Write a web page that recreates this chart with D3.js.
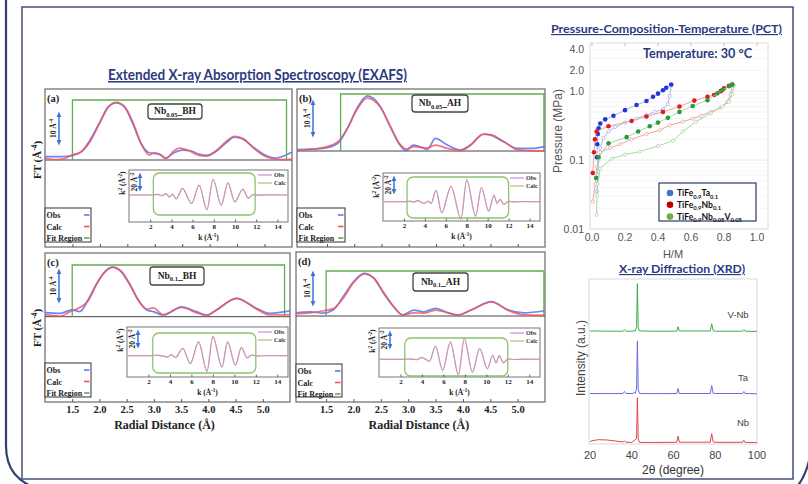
<!DOCTYPE html>
<html>
<head>
<meta charset="utf-8">
<script src="https://cdn.jsdelivr.net/npm/d3@7"></script>
<style>
  body { margin: 0; background: #fff; }
  svg { display: block; }
</style>
</head>
<body>
<svg id="fig" width="808" height="484"></svg>
<script>
// ---- EXAFS: |FT| vs radial distance, [R (Å), FT (Å^-4)] ----
const ftObsA  = [[1.0,1.0],[1.3,1.0],[1.5,1.4],[1.65,2.3],[1.8,5.5],[2.0,11.5],[2.15,16],[2.3,17.3],[2.45,16],[2.6,11],[2.75,5],[2.9,2.2],[3.0,2.0],[3.1,1.6],[3.2,0.6],[3.35,2.2],[3.5,3.0],[3.65,2.8],[3.8,1.8],[3.95,1.4],[4.1,2.4],[4.3,5.2],[4.45,6.9],[4.6,6.4],[4.8,3.8],[5.0,1.6],[5.2,0.6],[5.35,1.2],[5.5,2.4]];
const ftCalcA = [[1.0,0.6],[1.2,0.1],[1.35,0.4],[1.5,1.6],[1.65,2.4],[1.8,5],[2.0,11.3],[2.15,16],[2.3,17.5],[2.45,16.2],[2.6,11.5],[2.75,5],[2.9,1.5],[3.0,2.2],[3.1,1.7],[3.2,0.4],[3.35,2.8],[3.45,3.6],[3.6,3.0],[3.8,1.4],[3.95,1.2],[4.1,2.6],[4.3,5.6],[4.45,7.2],[4.6,6.6],[4.8,3.6],[5.0,1.2],[5.2,0.3],[5.35,0.1],[5.5,0.3]];
const ftObsB  = [[0.95,0.4],[1.2,0.5],[1.43,0.7],[1.7,2.1],[1.89,6.6],[2.05,11.5],[2.24,14.9],[2.48,12],[2.66,6.6],[2.84,1.6],[2.95,0.1],[3.08,1.6],[3.2,1.2],[3.34,0.5],[3.49,3.4],[3.71,1.6],[3.95,0.3],[4.13,1.6],[4.37,4.6],[4.5,4.3],[4.74,2.5],[5.0,0.7],[5.23,0.7],[5.5,1.2]];
const ftCalcB = [[0.95,0.1],[1.2,0.4],[1.43,0.9],[1.7,2.5],[1.89,6.5],[2.05,11.2],[2.24,14.3],[2.48,11.8],[2.66,6.8],[2.84,1.8],[2.97,0.5],[3.1,1.2],[3.34,0.8],[3.49,1.6],[3.71,0.7],[3.95,0.1],[4.13,1.5],[4.37,4.5],[4.5,4.4],[4.74,2.6],[5.0,0.3],[5.23,0.1],[5.5,0]];
const ftObsC  = [[1.0,1.2],[1.28,1.0],[1.49,2.0],[1.64,1.5],[1.79,4.9],[1.95,9.8],[2.1,13.2],[2.24,14.5],[2.4,13.2],[2.56,9.3],[2.71,4.9],[2.87,2.0],[2.99,1.5],[3.17,0.5],[3.51,2.9],[3.78,1.5],[3.97,0.5],[4.15,2.0],[4.52,5.4],[4.88,2.5],[5.13,1.0],[5.5,1.7]];
const ftCalcC = [[1.0,0.6],[1.28,0.2],[1.49,1.7],[1.64,2.7],[1.79,4.6],[1.95,9.6],[2.1,13.2],[2.24,14.6],[2.4,13.4],[2.56,9.6],[2.71,5.0],[2.87,2.2],[2.99,2.6],[3.17,0.6],[3.51,2.7],[3.78,1.2],[3.97,0.3],[4.15,2.0],[4.52,5.4],[4.88,2.3],[5.13,0.5],[5.5,0.6]];
const ftObsD  = [[0.95,0.9],[1.21,1.2],[1.45,0.8],[1.63,1.7],[1.81,5.5],[2.0,9.8],[2.2,12.2],[2.37,10.8],[2.55,6.5],[2.73,2.7],[2.9,0.3],[3.1,1.7],[3.28,1.2],[3.5,2.2],[3.73,0.9],[3.91,0.3],[4.15,1.7],[4.52,4.1],[4.83,1.7],[5.12,0.9],[5.49,1.5]];
const ftCalcD = [[0.95,0.7],[1.21,0.9],[1.45,1.5],[1.63,2.1],[1.81,5.0],[2.0,9.5],[2.2,12.0],[2.37,10.9],[2.55,6.8],[2.73,2.8],[2.9,0.3],[3.1,0.9],[3.28,0.8],[3.5,1.7],[3.73,0.9],[3.91,0.3],[4.15,1.7],[4.52,4.0],[4.83,1.6],[5.12,0.3],[5.49,0.2]];

// ---- k-space inset, [k (Å^-1), k²χ (Å^-2)] ----
const kObsA  = [[0,0],[2.2,0],[2.7,0.8],[3.1,-0.8],[3.5,1.5],[3.8,-2.5],[4.1,0.8],[4.45,-4.5],[5.05,7.4],[5.9,-9.2],[6.62,11.1],[7.35,-16.7],[7.93,17.8],[8.7,-11.1],[9.34,13.7],[9.98,-7.4],[10.74,6.3],[11.25,-3.7],[11.7,0.6],[12.3,-0.4],[13,0.3],[15,0]];
const kCalcA = [[0,0],[2.2,0],[2.7,0.6],[3.1,-0.6],[3.5,1.3],[3.8,-2.2],[4.1,0.6],[4.45,-4.2],[5.05,7.0],[5.9,-9.6],[6.62,10.6],[7.35,-16],[7.93,17.2],[8.7,-11.5],[9.34,13.2],[9.98,-7.8],[10.74,6.6],[11.25,-3.4],[11.7,0.3],[12.3,-0.2],[13,0.1],[15,0]];
const kObsB  = [[0,0],[2.0,0],[2.6,0.6],[3.0,-0.6],[3.3,1.6],[3.9,-2.2],[4.3,0.8],[4.6,-2],[5.07,13],[5.6,-12.6],[6.5,17.4],[7.45,-19.7],[8.0,24.9],[8.85,-16.7],[9.4,16],[10.1,-11.1],[10.6,7.4],[10.9,-2],[11.2,3],[11.55,-3.3],[12.0,0.5],[12.6,-0.4],[13.5,0.3],[15,0]];
const kCalcB = [[0,0],[2.0,0],[2.6,0.4],[3.0,-0.4],[3.3,1.2],[3.9,-1.8],[4.3,0.5],[4.6,-1.6],[5.07,12.4],[5.6,-12],[6.5,16.6],[7.45,-18.8],[8.0,23.4],[8.85,-15.6],[9.4,15.2],[10.1,-10],[10.6,6.6],[10.9,-1.5],[11.2,2.4],[11.55,-2.8],[12.0,0.3],[12.6,-0.2],[13.5,0.1],[15,0]];
const kObsC  = [[0,0],[2.2,0],[2.8,0.6],[3.3,-0.3],[3.8,-1.6],[4.15,1.1],[4.5,-2.2],[5.2,8.2],[5.9,-8.5],[6.67,15.6],[7.45,-17.8],[8.0,21.9],[8.85,-12.2],[9.37,15.6],[10.1,-10.4],[10.65,9.3],[11.2,-2.6],[11.6,0.8],[12.2,-0.4],[13,0.3],[15,0]];
const kCalcC = [[0,0],[2.2,0],[2.8,0.4],[3.3,-0.2],[3.8,-1.3],[4.15,0.9],[4.5,-2.0],[5.2,7.8],[5.9,-8.9],[6.67,15.0],[7.45,-17.0],[8.0,21.0],[8.85,-12.8],[9.37,15.0],[10.1,-10.8],[10.65,8.8],[11.2,-2.2],[11.6,0.5],[12.2,-0.2],[13,0.1],[15,0]];
const kObsD  = [[0,0],[2.2,0],[3.0,0.5],[3.5,-0.5],[4.0,2.2],[4.7,-2.2],[5.26,14.8],[5.93,-11.9],[6.65,19.6],[7.4,-17.4],[7.95,23.3],[8.7,-13.8],[9.38,12.2],[10.1,-10],[10.6,4.8],[10.9,-4.4],[11.2,4.4],[11.6,-4.4],[12.0,0.5],[12.6,-0.3],[13.5,0.2],[15,0]];
const kCalcD = [[0,0],[2.2,0],[3.0,0.3],[3.5,-0.3],[4.0,1.8],[4.7,-2.0],[5.26,14.2],[5.93,-12.4],[6.65,18.8],[7.4,-16.8],[7.95,22.4],[8.7,-14.4],[9.38,11.6],[10.1,-10.6],[10.6,4.2],[10.9,-3.8],[11.2,3.8],[11.6,-3.8],[12.0,0.3],[12.6,-0.2],[13.5,0.1],[15,0]];

// fit windows
const fitR = [[1.5,5.4],[1.75,5.48],[1.5,5.4],[1.5,5.48]];
const fitK = [[2.3,11.9],[2.3,12.0],[2.4,12.0],[2.4,12.0]];
const panelTags = ["(a)","(b)","(c)","(d)"];
const sampleNames = [["Nb","0.05","_BH"],["Nb","0.05","_AH"],["Nb","0.1","_BH"],["Nb","0.1","_AH"]];
const rTicks = [1.5,2.0,2.5,3.0,3.5,4.0,4.5,5.0];
const kTicks = [2,4,6,8,10,12,14];

// ---- PCT, [H/M, P (MPa)] ----
const taAbs = [[0.03,0.11],[0.032,0.17],[0.035,0.24],[0.04,0.29],[0.05,0.34],[0.08,0.39],[0.13,0.44],[0.2,0.53],[0.27,0.63],[0.33,0.72],[0.37,0.83],[0.4,0.92],[0.43,1.03],[0.45,1.12],[0.48,1.25]];
const taDes = [[0.48,1.2],[0.47,0.85],[0.46,0.65],[0.43,0.55],[0.38,0.5],[0.33,0.45],[0.27,0.4],[0.2,0.35],[0.14,0.3],[0.1,0.26],[0.07,0.21],[0.05,0.15],[0.04,0.1],[0.035,0.06],[0.03,0.035]];
const nbAbs = [[0.005,0.065],[0.012,0.13],[0.018,0.2],[0.028,0.26],[0.1,0.31],[0.24,0.37],[0.33,0.43],[0.43,0.5],[0.53,0.6],[0.62,0.73],[0.7,0.83],[0.74,0.88],[0.78,1.0],[0.8,1.1],[0.83,1.2],[0.85,1.25]];
const nbDes = [[0.85,1.22],[0.84,0.9],[0.82,0.7],[0.78,0.58],[0.72,0.5],[0.66,0.44],[0.61,0.4],[0.55,0.36],[0.47,0.32],[0.41,0.27],[0.33,0.24],[0.24,0.2],[0.17,0.17],[0.11,0.15],[0.05,0.13],[0.03,0.08],[0.02,0.045],[0.005,0.025]];
const vnAbs = [[0.025,0.055],[0.04,0.11],[0.1,0.175],[0.21,0.215],[0.28,0.26],[0.35,0.31],[0.4,0.35],[0.46,0.41],[0.53,0.5],[0.61,0.61],[0.7,0.74],[0.76,0.93],[0.79,1.04],[0.83,1.18],[0.85,1.25]];
const vnDes = [[0.86,1.2],[0.85,0.9],[0.83,0.7],[0.79,0.6],[0.72,0.48],[0.63,0.36],[0.55,0.26],[0.49,0.19],[0.4,0.16],[0.29,0.133],[0.2,0.12],[0.12,0.105],[0.05,0.076],[0.035,0.045],[0.03,0.03],[0.028,0.016]];
const pctXTicks = [0,0.2,0.4,0.6,0.8,1.0];
const pctYTicks = [0.01,0.1,1,2,4];
const pctYLabels = ["0.01","0.1","1.0","2.0","4.0"];
const pctNames = [
  [["TiFe","n"],["0.9","sub"],["Ta","n"],["0.1","sub"]],
  [["TiFe","n"],["0.9","sub"],["Nb","n"],["0.1","sub"]],
  [["TiFe","n"],["0.9","sub"],["Nb","n"],["0.05","sub"],["V","n"],["0.05","sub"]]
];

// ---- XRD, [2θ (deg), intensity (a.u.)] ----
const xrdVNb = [[20,1.5],[26,1.2],[32,1],[35.8,1],[36.5,4],[37.2,1],[40.6,1],[41.1,2.5],[41.6,1],[42.3,8],[42.7,96],[43.1,9],[43.7,1.5],[50,1],[61.6,1],[62.2,10],[62.8,1.5],[77.6,1.5],[78.3,16],[79.0,2],[80,1],[93.1,1],[93.7,4],[94.3,1],[100,0.5]];
const xrdTa  = [[20,1],[30,0.8],[35.8,1],[36.5,5],[37.2,1],[40.6,1],[41.1,3.5],[41.6,1],[42.3,9],[42.7,106],[43.1,9],[43.7,1],[50,0.8],[61.6,1],[62.2,11],[62.8,1],[77.6,1],[78.3,17],[79.0,1.5],[80,1],[93.1,1],[93.7,5],[94.3,1],[100,0.5]];
const xrdNb  = [[20,2],[21,4],[24,6],[28,5.5],[32,3.5],[35.8,1.5],[36.5,3],[37.2,1],[40,0.5],[42.3,8],[42.7,90],[43.1,8],[43.7,0.5],[50,0.5],[61.6,0.8],[62.2,13],[62.8,1],[77.6,1],[78.3,18],[79.0,1.5],[80,0.8],[93.1,0.8],[93.7,5],[94.3,0.5],[100,0.5]];
const xrdNames = ["V-Nb","Ta","Nb"];
const xrdTicks = [20,40,60,80,100];

const NAVY = "#2b3a80";
const SERIF = "'Liberation Serif','DejaVu Serif',serif";
const SANS = "'Liberation Sans',Arial,sans-serif";
const HEAD = "Lato,'Open Sans',sans-serif";

const svg = d3.select("#fig");
svg.append("rect").attr("width", 808).attr("height", 484).attr("fill", "#fff");

// write text with sub/superscripts
function rich(t, parts, size) {
  let cur = 0;
  parts.forEach(([s, k]) => {
    const off = k === "sub" ? size * 0.3 : k === "sup" ? -size * 0.4 : 0;
    t.append("tspan").attr("dy", off - cur).attr("font-size", k === "n" ? size : size * 0.68).text(s);
    cur = off;
  });
  return t;
}

// outer frame
svg.append("path").attr("d", "M6,-2 V446 C6,470 18,482 40,490")
  .attr("fill", "none").attr("stroke", "#34406e").attr("stroke-width", 2.2);
svg.append("path").attr("d", "M794,490 C802,482 807,472 810,456")
  .attr("fill", "none").attr("stroke", "#34406e").attr("stroke-width", 2.2);
svg.append("rect").attr("x", 22).attr("y", 7).attr("width", 771).attr("height", 472)
  .attr("fill", "none").attr("stroke", "#3a4470").attr("stroke-width", 1.4);

// ================= EXAFS =================
svg.append("text").attr("x", 108).attr("y", 80).attr("textLength", 299)
  .attr("lengthAdjust", "spacingAndGlyphs")
  .attr("font-family", HEAD).attr("font-weight", "bold").attr("font-size", 15.5)
  .attr("fill", NAVY).attr("text-decoration", "underline")
  .text("Extended X-ray Absorption Spectroscopy (EXAFS)");

const layout = [
  {x0:45, x1:292, y0:89, y1:247, dom:[1.0,5.5], base:160, ppu:3.3, fitTop:100, arrowX:59, arrowY:112,
   nameBox:[148,104,54,15], leg:[45,208,46,34], labels:false,
   ins:{x0:129, x1:288, y0:170, y1:222, base:195}, kFitY:[173,215]},
  {x0:297, x1:545, y0:89, y1:247, dom:[0.95,5.5], base:151, ppu:3.7, fitTop:94, arrowX:313, arrowY:100,
   nameBox:[412,95,56,17], leg:[297,208,48,34], labels:false,
   ins:{x0:383, x1:540, y0:173, y1:221, base:201.7}, kFitY:[177,218]},
  {x0:45, x1:290, y0:253, y1:402, dom:[1.0,5.5], base:316.7, ppu:3.4, fitTop:265, arrowX:59, arrowY:269,
   nameBox:[150,267,54,18], leg:[45,363,46,34], labels:true,
   ins:{x0:127, x1:288, y0:327, y1:377, base:355.7}, kFitY:[333,373]},
  {x0:296, x1:545, y0:252, y1:402, dom:[0.95,5.5], base:316, ppu:3.5, fitTop:271, arrowX:313, arrowY:271,
   nameBox:[413,273,55,18], leg:[296,364,46,33], labels:true,
   ins:{x0:379, x1:540, y0:328, y1:377, base:359.3}, kFitY:[338,376]}
];
const ftData = [[ftObsA,ftCalcA],[ftObsB,ftCalcB],[ftObsC,ftCalcC],[ftObsD,ftCalcD]];
const kData = [[kObsA,kCalcA],[kObsB,kCalcB],[kObsC,kCalcC],[kObsD,kCalcD]];

// arrow heads
const defs = svg.append("defs");
defs.append("marker").attr("id", "ah").attr("viewBox", "0 0 10 10").attr("refX", 5).attr("refY", 5)
  .attr("markerWidth", 4).attr("markerHeight", 4).attr("orient", "auto-start-reverse")
  .append("path").attr("d", "M0,1 L9,5 L0,9 z").attr("fill", "#3b74d6");

function vArrow(g, x, yTop, yBot, lab) {
  g.append("line").attr("x1", x).attr("x2", x).attr("y1", yTop + 2).attr("y2", yBot - 2)
    .attr("stroke", "#3b74d6").attr("stroke-width", 1.5)
    .attr("marker-start", "url(#ah)").attr("marker-end", "url(#ah)");
  const t = g.append("text").attr("transform", `translate(${x - 3},${(yTop + yBot) / 2}) rotate(-90)`)
    .attr("text-anchor", "middle").attr("font-family", SERIF).attr("font-weight", "bold").attr("fill", "#222");
  rich(t, lab, 7.5);
}

layout.forEach((p, i) => {
  const g = svg.append("g");
  const [obs, calc] = ftData[i];
  const x = d3.scaleLinear().domain(p.dom).range([p.x0, p.x1]);
  const y = d3.scaleLinear().domain([0, 10]).range([p.base, p.base - 10 * p.ppu]);

  g.append("rect").attr("x", p.x0).attr("y", p.y0).attr("width", p.x1 - p.x0).attr("height", p.y1 - p.y0)
    .attr("fill", "#fff").attr("stroke", "#6a6a6a").attr("stroke-width", 1.2);
  g.append("line").attr("x1", p.x0).attr("x2", p.x1).attr("y1", p.base).attr("y2", p.base)
    .attr("stroke", "#444").attr("stroke-width", 1);
  g.append("path")
    .attr("d", `M${x(fitR[i][0])},${p.base}V${p.fitTop}H${x(fitR[i][1])}V${p.base}`)
    .attr("fill", "none").attr("stroke", "#62ad4f").attr("stroke-width", 1.3);

  const line = d3.line().x(d => x(d[0])).y(d => y(d[1])).curve(d3.curveMonotoneX);
  g.append("path").datum(obs).attr("d", line).attr("fill", "none")
    .attr("stroke", "#5b7cf5").attr("stroke-width", 1.7).attr("opacity", 0.9);
  g.append("path").datum(calc).attr("d", line).attr("fill", "none")
    .attr("stroke", "#f4505e").attr("stroke-width", 1.7).attr("opacity", 0.8);

  const ax = d3.axisBottom(x).tickValues(rTicks).tickSizeInner(-3).tickSizeOuter(0).tickPadding(4)
    .tickFormat(p.labels ? d3.format(".1f") : () => "");
  const ag = g.append("g").attr("transform", `translate(0,${p.y1})`).call(ax);
  ag.select(".domain").remove();
  ag.selectAll("line").attr("stroke", "#555");
  ag.selectAll("text").attr("font-family", SERIF).attr("font-weight", "bold").attr("font-size", 10.5).attr("fill", "#222");
  if (p.labels) {
    g.append("text").attr("x", (x(1.5) + x(5.0)) / 2 - 3).attr("y", 428.5).attr("text-anchor", "middle")
      .attr("font-family", SERIF).attr("font-weight", "bold").attr("font-size", 12).attr("fill", "#222")
      .text("Radial Distance (Å)");
  }

  // tag and sample box
  g.append("text").attr("x", p.x0 + 2).attr("y", p.y0 + 13).attr("font-family", SERIF)
    .attr("font-weight", "bold").attr("font-size", 10.5).attr("fill", "#222").text(panelTags[i]);
  const nb = p.nameBox;
  g.append("rect").attr("x", nb[0]).attr("y", nb[1]).attr("width", nb[2]).attr("height", nb[3]).attr("rx", 3)
    .attr("fill", "#fff").attr("stroke", "#444").attr("stroke-width", 1.3);
  const nt = g.append("text").attr("x", nb[0] + nb[2] / 2).attr("y", nb[1] + nb[3] / 2 + 2.5)
    .attr("text-anchor", "middle").attr("font-family", SERIF).attr("font-weight", "bold").attr("fill", "#222");
  rich(nt, [[sampleNames[i][0], "n"], [sampleNames[i][1], "sub"], [sampleNames[i][2], "n"]], 9.5);

  // scale bar 10 Å^-4
  vArrow(g, p.arrowX, p.arrowY, p.arrowY + (y(0) - y(10)), [["10 Å", "n"], ["-4", "sup"]]);

  // legend
  const L = p.leg;
  g.append("rect").attr("x", L[0]).attr("y", L[1]).attr("width", L[2]).attr("height", L[3])
    .attr("fill", "#fff").attr("stroke", "#444").attr("stroke-width", 1.1);
  [["Obs", "#5b7cf5"], ["Calc", "#f4505e"], ["Fit Region", "#62ad4f"]].forEach((e, j) => {
    const yy = L[1] + 9 + j * 11.5;
    g.append("text").attr("x", L[0] + 1.5).attr("y", yy + 1).attr("font-family", SERIF).attr("font-weight", "bold")
      .attr("font-size", 8).attr("fill", "#222").text(e[0]);
    g.append("line").attr("x1", L[0] + L[2] - 7).attr("x2", L[0] + L[2] - 1.5).attr("y1", yy - 2).attr("y2", yy - 2)
      .attr("stroke", e[1]).attr("stroke-width", 1.6);
  });

  // inset (k-space)
  const I = p.ins;
  const kx = d3.scaleLinear().domain([0, 15]).range([I.x0, I.x1]);
  const ky = d3.scaleLinear().domain([-10, 10]).range([I.base + 9, I.base - 9]);
  g.append("rect").attr("x", I.x0).attr("y", I.y0).attr("width", I.x1 - I.x0).attr("height", I.y1 - I.y0)
    .attr("fill", "#fff").attr("stroke", "#777").attr("stroke-width", 1);
  g.append("rect").attr("x", kx(fitK[i][0])).attr("y", p.kFitY[0])
    .attr("width", kx(fitK[i][1]) - kx(fitK[i][0])).attr("height", p.kFitY[1] - p.kFitY[0]).attr("rx", 6)
    .attr("fill", "none").attr("stroke", "#8cc46e").attr("stroke-width", 1.3);
  const kl = d3.line().x(d => kx(d[0])).y(d => ky(d[1])).curve(d3.curveMonotoneX);
  g.append("path").datum(kData[i][1]).attr("d", kl).attr("fill", "none")
    .attr("stroke", "#c7b47a").attr("stroke-width", 1.2);
  g.append("path").datum(kData[i][0]).attr("d", kl).attr("fill", "none")
    .attr("stroke", "#cf86e6").attr("stroke-width", 1.1).attr("opacity", 0.75);
  const kax = d3.axisBottom(kx).tickValues(kTicks).tickSizeInner(-2.5).tickSizeOuter(0).tickPadding(2.5);
  const kag = g.append("g").attr("transform", `translate(0,${I.y1})`).call(kax);
  kag.select(".domain").remove();
  kag.selectAll("line").attr("stroke", "#666");
  kag.selectAll("text").attr("font-family", SERIF).attr("font-weight", "bold").attr("font-size", 7).attr("fill", "#222");
  const kt = g.append("text").attr("x", kx(7.5)).attr("y", I.y1 + 17.5).attr("text-anchor", "middle")
    .attr("font-family", SERIF).attr("font-weight", "bold").attr("fill", "#222");
  rich(kt, [["k (Å", "n"], ["-1", "sup"], [")", "n"]], 7.5);
  const kyl = g.append("text").attr("transform", `translate(${I.x0 - 4},${I.y0 + 13}) rotate(-90)`)
    .attr("text-anchor", "middle").attr("font-family", SERIF).attr("font-weight", "bold").attr("fill", "#222");
  rich(kyl, [["k", "n"], ["2", "sup"], [" (Å", "n"], ["-2", "sup"], [")", "n"]], 7.5);
  vArrow(g, I.x0 + 11, I.y0 + 3, I.y0 + 3 + (ky(0) - ky(20)), [["20 Å", "n"], ["-2", "sup"]]);
  [["Obs", "#cf86e6"], ["Calc", "#c7b47a"]].forEach((e, j) => {
    const yy = I.y0 + 5 + j * 8;
    g.append("line").attr("x1", I.x1 - 30).attr("x2", I.x1 - 16).attr("y1", yy).attr("y2", yy)
      .attr("stroke", e[1]).attr("stroke-width", 1.2);
    g.append("text").attr("x", I.x1 - 14).attr("y", yy + 2).attr("font-family", SERIF).attr("font-weight", "bold")
      .attr("font-size", 6).attr("fill", "#333").text(e[0]);
  });
});

// FT axis labels
[160, 328].forEach(cy => {
  const t = svg.append("text").attr("transform", `translate(41,${cy}) rotate(-90)`).attr("text-anchor", "middle")
    .attr("font-family", SERIF).attr("font-weight", "bold").attr("fill", "#222");
  rich(t, [["FT (Å", "n"], ["-4", "sup"], [")", "n"]], 11);
});

// ================= PCT =================
svg.append("text").attr("x", 551).attr("y", 33).attr("textLength", 231).attr("lengthAdjust", "spacingAndGlyphs")
  .attr("font-family", HEAD).attr("font-weight", "bold").attr("font-size", 11.5).attr("fill", NAVY)
  .attr("text-decoration", "underline").text("Pressure-Composition-Temperature (PCT)");

const px = d3.scaleLinear().domain([0, 1]).range([592, 757]);
const py = d3.scaleLog().domain([0.01, 5]).range([229, 43]);
const pg = svg.append("g");
pg.append("rect").attr("x", 590).attr("y", 43).attr("width", 178).attr("height", 186)
  .attr("fill", "#fff").attr("stroke", "#cfcfcf").attr("stroke-width", 0.8);
[0.01, 0.1, 1].forEach(dec => d3.range(1, 10).forEach(m => {
  const v = dec * m;
  if (v > 5 || v <= 0.01) return;
  pg.append("line").attr("x1", 590).attr("x2", 768).attr("y1", py(v)).attr("y2", py(v))
    .attr("stroke", m === 1 ? "#e2e2e2" : "#f0f0f0").attr("stroke-width", 0.7);
}));
pctXTicks.forEach(v => {
  pg.append("line").attr("x1", px(v)).attr("x2", px(v)).attr("y1", 43).attr("y2", 46).attr("stroke", "#bbb");
  pg.append("text").attr("x", px(v)).attr("y", 241).attr("text-anchor", "middle").attr("font-family", SANS)
    .attr("font-size", 10.5).attr("fill", "#555").text(d3.format(".1f")(v));
});
pctYTicks.forEach((v, j) => {
  pg.append("text").attr("x", 584).attr("y", py(v) + 3.5).attr("text-anchor", "end").attr("font-family", SANS)
    .attr("font-size", 10.5).attr("fill", "#555").text(pctYLabels[j]);
});
pg.append("text").attr("x", 673).attr("y", 258).attr("text-anchor", "middle").attr("font-family", SANS)
  .attr("font-size", 11).attr("fill", "#555").text("H/M");
pg.append("text").attr("transform", "translate(562,131) rotate(-90)").attr("text-anchor", "middle")
  .attr("font-family", SANS).attr("font-size", 12).attr("fill", "#555").text("Pressure (MPa)");

const pctSets = [
  {abs: taAbs, des: taDes, dark: "#2336d8", light: "#aab4ee", key: "#4472c4"},
  {abs: nbAbs, des: nbDes, dark: "#d91e1e", light: "#efa3a3", key: "#c00000"},
  {abs: vnAbs, des: vnDes, dark: "#2e9a3c", light: "#a9d6a2", key: "#70ad47"}
];
const pl = d3.line().x(d => px(d[0])).y(d => py(d[1]));
pctSets.forEach(s => {
  pg.append("path").datum(s.des).attr("d", pl).attr("fill", "none").attr("stroke", s.light).attr("stroke-width", 1);
  pg.selectAll(null).data(s.des).enter().append("circle").attr("cx", d => px(d[0])).attr("cy", d => py(d[1]))
    .attr("r", 1.6).attr("fill", "#fff").attr("stroke", s.light).attr("stroke-width", 0.8);
});
pctSets.forEach(s => {
  pg.append("path").datum(s.abs).attr("d", pl).attr("fill", "none").attr("stroke", s.light).attr("stroke-width", 1);
  pg.selectAll(null).data(s.abs).enter().append("circle").attr("cx", d => px(d[0])).attr("cy", d => py(d[1]))
    .attr("r", 2.3).attr("fill", s.dark);
});
pg.append("text").attr("x", 643).attr("y", 58).attr("textLength", 109).attr("lengthAdjust", "spacingAndGlyphs")
  .attr("font-family", HEAD).attr("font-weight", "bold").attr("font-size", 12.5).attr("fill", NAVY)
  .text("Temperature: 30 °C");
pg.append("rect").attr("x", 659).attr("y", 183).attr("width", 97).attr("height", 38)
  .attr("fill", "#fff").attr("stroke", "#2b3a6e").attr("stroke-width", 1.2);
pctSets.forEach((s, j) => {
  const yy = 193 + j * 11.8;
  pg.append("circle").attr("cx", 670).attr("cy", yy).attr("r", 3.3).attr("fill", s.key);
  const t = pg.append("text").attr("x", 677).attr("y", yy + 3).attr("font-family", HEAD).attr("font-weight", "bold")
    .attr("fill", "#111");
  rich(t, pctNames[j], 8.6);
});

// ================= XRD =================
svg.append("text").attr("x", 619).attr("y", 273).attr("textLength", 126).attr("lengthAdjust", "spacingAndGlyphs")
  .attr("font-family", HEAD).attr("font-weight", "bold").attr("font-size", 11.5).attr("fill", NAVY)
  .attr("text-decoration", "underline").text("X-ray Diffraction (XRD)");

const xx = d3.scaleLinear().domain([20, 100]).range([590, 757]);
const xg = svg.append("g");
xg.append("rect").attr("x", 589).attr("y", 279).attr("width", 168).attr("height", 165)
  .attr("fill", "#fff").attr("stroke", "#cfcfcf").attr("stroke-width", 0.8);
xrdTicks.forEach(v => {
  xg.append("text").attr("x", xx(v)).attr("y", 459).attr("text-anchor", "middle").attr("font-family", SANS)
    .attr("font-size", 11).attr("fill", "#444").text(v);
});
xg.append("text").attr("x", 673).attr("y", 474).attr("text-anchor", "middle").attr("font-family", SANS)
  .attr("font-size", 12).attr("fill", "#333").text("2θ (degree)");
xg.append("text").attr("transform", "translate(585,358) rotate(-90)").attr("text-anchor", "middle")
  .attr("font-family", SANS).attr("font-size", 12).attr("fill", "#444").text("Intensity (a.u.)");

const xrdSets = [
  {d: xrdVNb, base: 331.7, color: "#3fae4a", lx: 738, ly: 318},
  {d: xrdTa, base: 394, color: "#6c6ce2", lx: 743, ly: 381},
  {d: xrdNb, base: 442.7, color: "#e0474c", lx: 743, ly: 426}
];
xrdSets.forEach((s, j) => {
  const yy = d3.scaleLinear().domain([0, 100]).range([s.base, s.base - 50]);
  const l = d3.line().x(d => xx(d[0])).y(d => yy(d[1]));
  xg.append("path").datum(s.d).attr("d", l).attr("fill", "none").attr("stroke", s.color).attr("stroke-width", 1);
  xg.append("text").attr("x", s.lx).attr("y", s.ly).attr("text-anchor", "middle").attr("font-family", SANS)
    .attr("font-size", 9.5).attr("fill", "#444").text(xrdNames[j]);
});
</script>
</body>
</html>
